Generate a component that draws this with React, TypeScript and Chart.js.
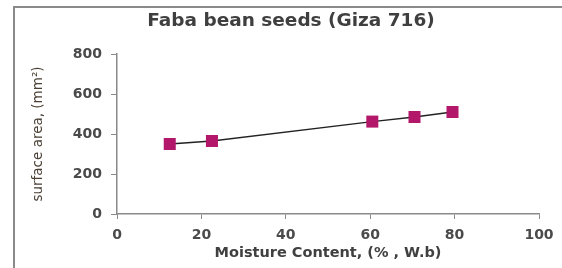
import React, { useEffect, useRef } from "react";
import { Chart, registerables } from "chart.js";

Chart.register(...registerables);

const titleText = "Faba bean seeds (Giza 716)";
const xTitle = "Moisture Content, (% , W.b)";
const yTitle = "surface area, (mm²)";
const moisture = [12.5, 22.5, 60.5, 70.5, 79.5];
const surfaceArea = [350, 365, 462, 485, 510];
const xTicks = [0, 20, 40, 60, 80, 100];
const yTicks = [0, 200, 400, 600, 800];

const font = "'DejaVu Sans', 'Liberation Sans', sans-serif";

const frame = {
  id: "frame",
  beforeDraw(chart: any) {
    const ctx = chart.ctx;
    ctx.save();
    ctx.fillStyle = "#ffffff";
    ctx.fillRect(0, 0, chart.width, chart.height);
    ctx.strokeStyle = "#8a8a8a";
    ctx.lineWidth = 2;
    ctx.strokeRect(14, 7, chart.width + 20, chart.height + 20);
    ctx.restore();
  },
  afterDraw(chart: any) {
    const ctx = chart.ctx;
    ctx.save();
    ctx.fillStyle = "#3f3f3f";
    ctx.font = `bold 18.5px ${font}`;
    ctx.textAlign = "center";
    ctx.textBaseline = "middle";
    ctx.fillText(titleText, 291, 21);
    ctx.restore();
  },
};

export default function App() {
  const ref = useRef<HTMLCanvasElement>(null);
  useEffect(() => {
    const chart = new Chart(ref.current!, {
      type: "scatter",
      data: {
        datasets: [
          {
            data: moisture.map((x, i) => ({ x, y: surfaceArea[i] })),
            showLine: true,
            borderColor: "#222222",
            borderWidth: 1.3,
            pointStyle: "rect",
            pointRadius: 8.5,
            pointBackgroundColor: "#B3176A",
            pointBorderColor: "#B3176A",
            pointBorderWidth: 0,
          },
        ],
      },
      options: {
        responsive: false,
        animation: false,
        layout: { padding: { left: 0, right: 23, top: 54, bottom: 0 } },
        plugins: {
          legend: { display: false },
          tooltip: { enabled: false },
          title: { display: false },
        },
        scales: {
          x: {
            type: "linear",
            min: 0,
            max: 100,
            afterFit: (s: any) => { s.height = 54; },
            afterBuildTicks: (s: any) => { s.ticks = xTicks.map((v) => ({ value: v })); },
            ticks: { color: "#4a4a4a", font: { family: font, size: 14, weight: "bold" }, padding: 8 },
            grid: { display: true, drawOnChartArea: false, tickLength: 5, color: "#8a8a8a" },
            border: { color: "#8a8a8a", width: 1.5 },
            title: {
              display: true,
              text: xTitle,
              color: "#404040",
              font: { family: font, size: 14.5, weight: "bold" },
              padding: { top: 0, bottom: 6 },
            },
          },
          y: {
            type: "linear",
            min: 0,
            max: 800,
            afterFit: (s: any) => { s.width = 117; },
            afterBuildTicks: (s: any) => { s.ticks = yTicks.map((v) => ({ value: v })); },
            ticks: { color: "#4a4a4a", font: { family: font, size: 14, weight: "bold" }, padding: 9 },
            grid: { display: true, drawOnChartArea: false, tickLength: 6, color: "#8a8a8a" },
            border: { color: "#8a8a8a", width: 1.5 },
            title: {
              display: true,
              text: yTitle,
              color: "#4a4035",
              font: { family: font, size: 13.5, weight: "normal" },
              padding: { top: 30, bottom: 0 },
            },
          },
        },
      },
      plugins: [frame],
    });
    return () => chart.destroy();
  }, []);
  return (
    <div style={{ position: "fixed", left: 0, top: 0, width: 562, height: 268, background: "#fff" }}>
      <canvas ref={ref} width={562} height={268} style={{ display: "block" }} />
    </div>
  );
}
